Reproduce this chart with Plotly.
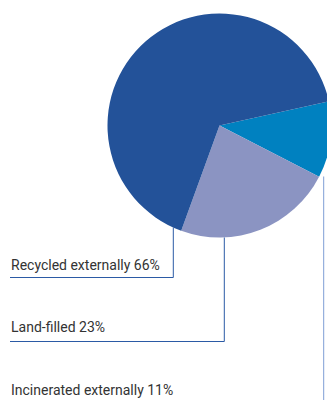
import plotly.graph_objects as go

labels = ["Incinerated externally", "Land-filled", "Recycled externally"]
values = [11, 23, 66]
colors = ["#0081c0", "#8b94c2", "#235299"]

W, H = 335, 400   # a little wider than the 327px window so the pie is cut at the right edge
cx, cy, R = 219.5, 125.5, 112.0

fig = go.Figure()
fig.add_trace(go.Pie(
    labels=labels, values=values, sort=False, direction="clockwise",
    rotation=77.6, textinfo="none", hoverinfo="label+percent",
    marker=dict(colors=colors, line=dict(width=0)),
    domain=dict(x=[(cx - R) / W, (cx + R) / W], y=[1 - (cy + R) / H, 1 - (cy - R) / H]),
    showlegend=False,
))

fig.update_xaxes(range=[0, W], visible=False, fixedrange=True)
fig.update_yaxes(range=[H, 0], visible=False, fixedrange=True)
fig.add_trace(go.Scatter(x=[0], y=[0], mode="markers", marker=dict(opacity=0), hoverinfo="skip", showlegend=False))

line_col = "#2b5aa5"
font = dict(family="Roboto, Liberation Sans, sans-serif", size=14, color="#333333")
leaders = [
    ("Recycled externally 66%", 173.3, 227.5, 277.5, 270),
    ("Land-filled 23%", 224.3, 237.5, 341.5, 332),
]
shapes = []
annotations = []
for txt, vx, vtop, hy, ty in leaders:
    shapes.append(dict(type="line", xref="x", yref="y", x0=vx, x1=vx, y0=vtop, y1=hy,
                       line=dict(color=line_col, width=1)))
    shapes.append(dict(type="line", xref="x", yref="y", x0=10, x1=vx, y0=hy, y1=hy,
                       line=dict(color=line_col, width=1)))
    annotations.append(dict(x=10, y=ty + 5, xref="x", yref="y", text=txt, showarrow=False,
                            xanchor="left", yanchor="bottom", xshift=-1, font=font))
shapes.append(dict(type="line", xref="x", yref="y", x0=323.7, x1=323.7, y0=176.5, y1=H,
                   line=dict(color="#7f9ed6", width=1)))
annotations.append(dict(x=10, y=395 + 5, xref="x", yref="y", text="Incinerated externally 11%",
                        showarrow=False, xanchor="left", yanchor="bottom", xshift=-1, font=font))

fig.update_layout(
    width=W, height=H, margin=dict(l=0, r=0, t=0, b=0),
    paper_bgcolor="white", plot_bgcolor="rgba(0,0,0,0)",
    shapes=shapes, annotations=annotations,
)
fig.write_html("out.html", config={"displayModeBar": False},
               post_script="document.body.style.margin='0';document.body.style.overflow='hidden';")
